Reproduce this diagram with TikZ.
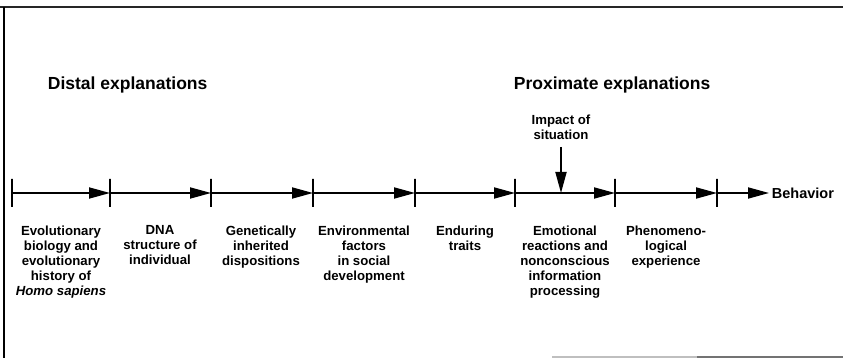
\documentclass[tikz,border=0pt]{standalone}
\usepackage{fontspec}
\setmainfont{Liberation Sans}
\usetikzlibrary{positioning}
\usetikzlibrary{arrows.meta}
\tikzset{tickmark/.style={draw,line width=1.6pt,minimum width=0pt,minimum height=28pt,inner sep=0pt,outer sep=0pt}}
\tikzset{stage/.style={anchor=north,align=center,inner sep=0pt,font=\bfseries\fontsize{13.2}{15}\selectfont}}
\tikzset{head/.style={anchor=west,inner sep=0pt,font=\bfseries\fontsize{17.5}{20}\selectfont}}
\tikzset{>={Triangle[length=21pt,width=11pt]}}

\begin{document}
\begin{tikzpicture}[x=1pt,y=-1pt,line width=1.8pt]
        \useasboundingbox (0,0) rectangle (843,358);

        % frame
        \draw[line width=1.5pt,black!85] (0,7) -- (843,7);
        \draw[line width=2pt] (4,7) -- (4,358);
        \draw[line width=1.2pt,black!25] (552,357) -- (843,357);
        \draw[line width=1.2pt,black!55] (697,357) -- (843,357);

        \node[head] (distal) at (47,85) {Distal explanations};
        \node[head] (proximate) at (513,85) {Proximate explanations};

        \node[tickmark] (T1) at (12,193) {};
        \node[tickmark] (T2) at (110,193) {};
        \node[tickmark] (T3) at (211,193) {};
        \node[tickmark] (T4) at (313,193) {};
        \node[tickmark] (T5) at (415,193) {};
        \node[tickmark] (T6) at (515,193) {};
        \node[tickmark] (T7) at (615,193) {};
        \node[tickmark] (T8) at (717,193) {};
        \node[anchor=west,inner sep=2pt,font=\bfseries\fontsize{14.5}{17}\selectfont] (beh) at (769,193) {Behavior};

        \draw[->] (T1) -- (T2);
        \draw[->] (T2) -- (T3);
        \draw[->] (T3) -- (T4);
        \draw[->] (T4) -- (T5);
        \draw[->] (T5) -- (T6);
        \draw[->] (T6) -- (T7);
        \draw[->] (T7) -- (T8);
        \draw[->] (T8) -- (beh);

        \coordinate (hit) at (561,193);
        \node[stage,above=52pt of hit] (imp) {Impact of\\situation};
        \draw[->,shorten <=6pt] (imp) -- (hit);

        \node[stage] (evo) at (61,225) {Evolutionary\\biology and\\evolutionary\\history of\\\textit{Homo sapiens}};
        \node[stage] (dna) at (160,225) {DNA\\structure of\\individual};
        \node[stage] (gen) at (261,225) {Genetically\\inherited\\dispositions};
        \node[stage] (env) at (364,225) {Environmental\\factors\\in social\\development};
        \node[stage] (trait) at (465,225) {Enduring\\traits};
        \node[stage] (emo) at (565,225) {Emotional\\reactions and\\nonconscious\\information\\processing};
        \node[stage] (phen) at (666,225) {Phenomeno-\\logical\\experience};
\end{tikzpicture}
\end{document}
